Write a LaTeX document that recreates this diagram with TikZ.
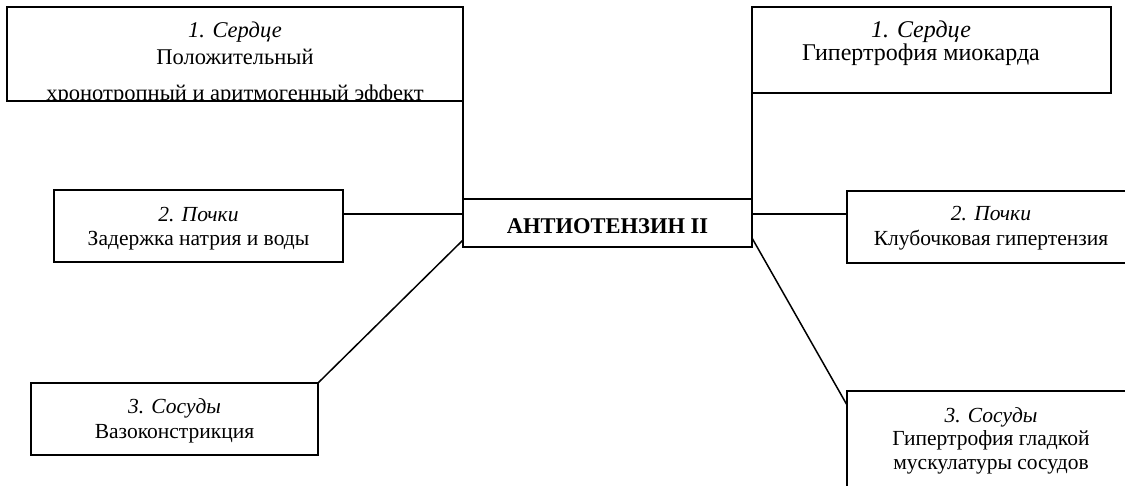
\documentclass[tikz,border=0pt]{standalone}
\usepackage{fontspec}
\setmainfont{Liberation Serif}
\begin{document}
\begin{tikzpicture}[x=1pt,y=-1pt,
  box/.style={draw, line width=2pt, rectangle, inner sep=0pt, outer sep=0pt},
  link/.style={line width=1.5pt},
  txt/.style={anchor=base, inner sep=0pt, font=\fontsize{21.5}{25}\selectfont},
  ttl/.style={txt, font=\fontsize{21.5}{25}\selectfont\itshape},
  txta/.style={anchor=base, inner sep=0pt, font=\fontsize{22.5}{26}\selectfont},
  ttla/.style={txta, font=\fontsize{22.5}{26}\selectfont\itshape},
  txtb/.style={anchor=base, inner sep=0pt, font=\fontsize{24}{28}\selectfont},
  ttlb/.style={txtb, font=\fontsize{24}{28}\selectfont\itshape},
  big/.style={anchor=base, inner sep=0pt, font=\fontsize{22.5}{26}\selectfont\bfseries}]
\useasboundingbox (0,0) rectangle (1125,485);
% boxes
\node[box, minimum width=456pt, minimum height=94pt] (h1) at (235,54) {};
\node[box, minimum width=359pt, minimum height=86pt] (h2) at (931.5,50) {};
\node[box, minimum width=289pt, minimum height=72pt] (k1) at (198.5,226) {};
\node[box, minimum width=288pt, minimum height=72pt] (k2) at (991,227) {};
\node[box, minimum width=289pt, minimum height=48pt] (c) at (607.5,223) {};
\node[box, minimum width=287pt, minimum height=72pt] (v1) at (174.5,419) {};
\node[box, minimum width=288pt, minimum height=109pt] (v2) at (991,445.5) {};
% connectors
\draw[link] (h1.south east) -- (c.north west);
\draw[link] (h2.south west) -- (c.north east);
\draw[link] ([yshift=12pt]k1.east) -- ([yshift=12pt]k1.east -| c.west);
\draw[link] ([yshift=13pt]k2.west) -- ([yshift=13pt]k2.west -| c.east);
\draw[link] ([yshift=7pt]c.south west) -- (v1.north east);
\draw[link] ([yshift=9pt]c.south east) -- ([yshift=-14pt]v2.north west);
% texts
\begin{scope}
\clip (7,7) rectangle (463,100);
\node[ttla] (h1a) at (235,37) {1. Сердце};
\node[txta] (h1b) at (235,64) {Положительный};
\node[txta] (h1c) at (235,100) {хронотропный и аритмогенный эффект};
\end{scope}
\node[ttlb] (h2a) at (921,37) {1. Сердце};
\node[txtb] (h2b) at (921,60) {Гипертрофия миокарда};
\node[ttl] (k1a) at (198.5,221) {2. Почки};
\node[txt] (k1b) at (198.5,245) {Задержка натрия и воды};
\node[ttl] (k2a) at (991,220) {2. Почки};
\node[txt] (k2b) at (991,245) {Клубочковая гипертензия};
\node[big] (ca) at (607.5,233) {АНТИОТЕНЗИН II};
\node[ttl] (v1a) at (174.5,413) {3. Сосуды};
\node[txt] (v1b) at (174.5,438) {Вазоконстрикция};
\node[ttl] (v2a) at (991,422) {3. Сосуды};
\node[txt] (v2b) at (991,445) {Гипертрофия гладкой};
\node[txt] (v2c) at (991,469) {мускулатуры сосудов};
\end{tikzpicture}
\end{document}
